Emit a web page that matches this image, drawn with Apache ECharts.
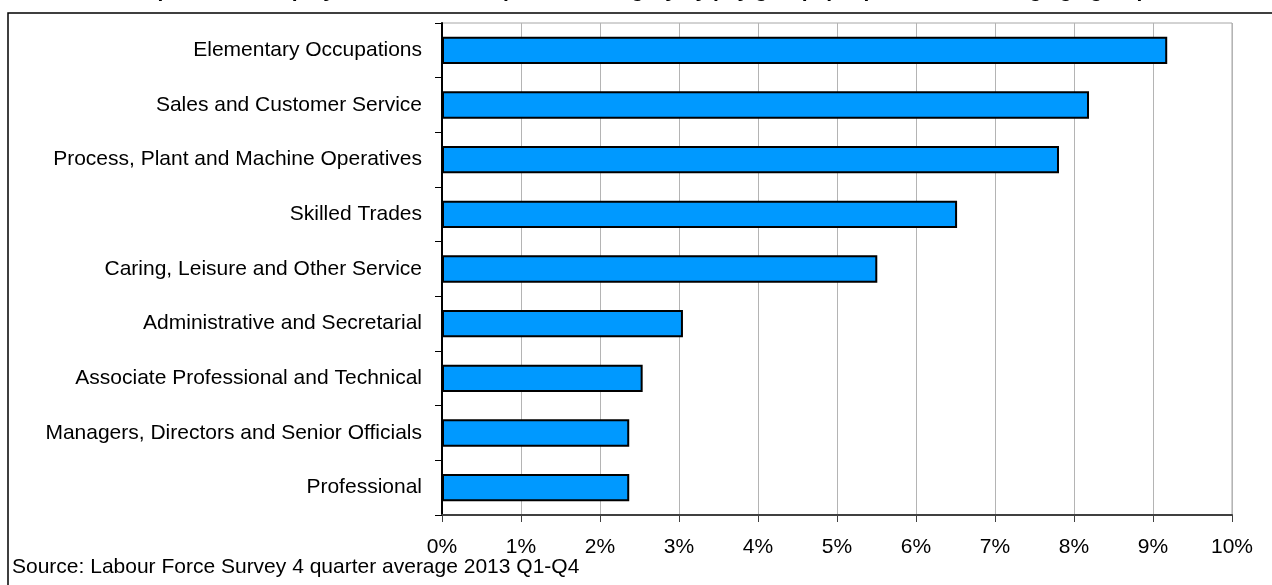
<!DOCTYPE html>
<html>
<head>
<meta charset="utf-8">
<script src="https://cdn.jsdelivr.net/npm/echarts@6/dist/echarts.min.js"></script>
<style>
  html, body { margin: 0; padding: 0; background: #ffffff; }
  #chart { width: 1272px; height: 585px; }
</style>
</head>
<body>
<div id="chart"></div>
<script>
// Occupation groups, listed top to bottom
const categories = [
  'Elementary Occupations',
  'Sales and Customer Service',
  'Process, Plant and Machine Operatives',
  'Skilled Trades',
  'Caring, Leisure and Other Service',
  'Administrative and Secretarial',
  'Associate Professional and Technical',
  'Managers, Directors and Senior Officials',
  'Professional'
];
// Share of workers in each group (%)
const shares = [9.18, 8.19, 7.81, 6.52, 5.51, 3.05, 2.54, 2.37, 2.37];
// Horizontal axis range and step (%)
const axisMin = 0;
const axisMax = 10;
const axisStep = 1;

const titleText = 'Proportion of employees in each occupational category by pay group, people in the working age group';
const sourceText = 'Source: Labour Force Survey 4 quarter average 2013 Q1-Q4';

const FONT = '"Liberation Sans", Arial, sans-serif';

const chart = echarts.init(document.getElementById('chart'), null, { renderer: 'canvas' });

chart.setOption({
  animation: false,
  backgroundColor: '#ffffff',
  title: {
    text: titleText,
    left: 'center',
    top: -19,
    padding: 0,
    textStyle: { fontFamily: FONT, fontWeight: 'bold', fontSize: 21, color: '#000000' }
  },
  graphic: [
    {
      type: 'rect',
      shape: { x: 8, y: 13, width: 1400, height: 700 },
      style: { fill: 'none', stroke: '#000000', lineWidth: 1.5 },
      silent: true,
      z: 0
    },
    {
      type: 'text',
      left: 12,
      top: 557,
      style: { text: sourceText, font: '21px ' + FONT, fill: '#000000' },
      z: 10
    }
  ],
  grid: {
    left: 442,
    right: 40,
    top: 23,
    bottom: 70,
    show: true,
    borderColor: '#a6a6a6',
    borderWidth: 1,
    containLabel: false
  },
  xAxis: {
    type: 'value',
    min: axisMin,
    max: axisMax,
    interval: axisStep,
    axisLine: { show: true, lineStyle: { color: '#404040', width: 2 } },
    axisTick: { show: true, length: 7, lineStyle: { color: '#404040', width: 1 } },
    axisLabel: {
      formatter: v => v + '%',
      fontFamily: FONT,
      fontSize: 21,
      color: '#000000',
      margin: 22
    },
    splitLine: { show: true, lineStyle: { color: '#b4b4b4', width: 1 } }
  },
  yAxis: {
    type: 'category',
    data: categories,
    inverse: true,
    axisLine: { show: true, lineStyle: { color: '#000000', width: 2 } },
    axisTick: { show: true, length: 7, lineStyle: { color: '#000000', width: 1 } },
    axisLabel: {
      fontFamily: FONT,
      fontSize: 21,
      color: '#000000',
      margin: 20
    },
    splitLine: { show: false }
  },
  series: [
    {
      type: 'bar',
      data: shares,
      barWidth: '50%',
      itemStyle: { color: '#0099ff', borderColor: '#000000', borderWidth: 2 },
      z: 3
    }
  ]
});
</script>
</body>
</html>
